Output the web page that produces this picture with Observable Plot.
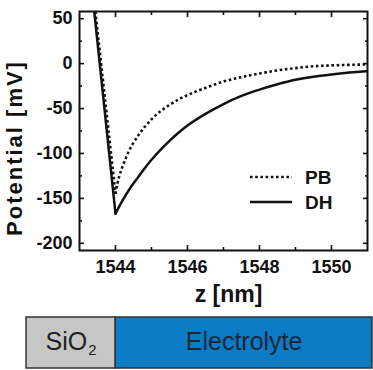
<!DOCTYPE html>
<html>
<head>
<meta charset="utf-8">
<script src="https://cdn.jsdelivr.net/npm/d3@7"></script>
<script src="https://cdn.jsdelivr.net/npm/@observablehq/plot@0.6"></script>
<style>
  html, body { margin: 0; padding: 0; background: #fff; }
  #wrap { position: relative; width: 373px; height: 370px; font-family: "Liberation Sans", Arial, sans-serif; }
  #wrap svg { display: block; }
  #legend { position: absolute; left: 0; top: 0; pointer-events: none; }
</style>
</head>
<body>
<div id="wrap"></div>
<script>
// ---- data ----
// Debye-Hückel (DH, solid)
const zDH = [1543.41, 1544.0, 1544.2, 1544.4, 1544.6, 1544.8, 1545.0, 1545.25, 1545.5, 1545.75, 1546.0, 1546.5, 1547.0, 1547.5, 1548.0, 1548.5, 1549.0, 1549.5, 1550.0, 1550.5, 1550.96];
const vDH = [58, -167, -152, -139, -128, -117, -107, -96, -86, -77, -69, -56, -45, -36, -29, -23, -18, -14.5, -12, -10, -8.5];
// Poisson-Boltzmann (PB, dotted)
const zPB = [1543.44, 1544.0, 1544.05, 1544.1, 1544.2, 1544.3, 1544.4, 1544.5, 1544.65, 1544.8, 1545.0, 1545.25, 1545.5, 1545.75, 1546.0, 1546.5, 1547.0, 1547.5, 1548.0, 1548.5, 1549.0, 1549.5, 1550.0, 1550.96];
const vPB = [58, -145, -134, -126, -114, -104, -95, -88, -79, -71, -62, -53, -46, -40, -35, -27, -20, -15, -11, -7.5, -5, -3, -2, -1];

const xMajorTicks = [1544, 1546, 1548, 1550];
const xMinorTicks = [1545, 1547, 1549];
const yMajorTicks = [-200, -150, -100, -50, 0, 50];
const yMinorTicks = [-175, -125, -75, -25, 25];

const seriesNames = ["PB", "DH"];
const xLabel = "z [nm]";
const yLabel = "Potential [mV]";

// layer bar below the chart
const regionNames = ["SiO₂", "Electrolyte"];
const regionStart = [1541.55, 1544];
const regionEnd = [1544, 1551.05];
const regionColors = ["#c6c6c6", "#0a7bc4"];

// ---- build tables ----
// split each curve into a straight descent (first two points) and the decay branch
function rows(zs, vs, name) {
  const out = [];
  zs.forEach((z, i) => {
    if (i <= 1) out.push({z, v: vs[i], series: name, branch: name + "-a"});
    if (i >= 1) out.push({z, v: vs[i], series: name, branch: name + "-b"});
  });
  return out;
}
const dh = rows(zDH, vDH, "DH");
const pb = rows(zPB, vPB, "PB");

const font = "Liberation Sans, Arial, sans-serif";

const chart = Plot.plot({
  width: 373,
  height: 314,
  marginTop: 11,
  marginBottom: 64,
  marginLeft: 79,
  marginRight: 6,
  style: {fontFamily: font, background: "#fff", color: "#111"},
  x: {domain: [1543, 1551]},
  y: {domain: [-208, 58]},
  marks: [
    // y axis left: major + minor, inward
    Plot.axisY(yMajorTicks, {anchor: "left", tickSize: -5, tickPadding: 12, fontSize: 18, fontWeight: "bold", strokeWidth: 1.6, tickFormat: d => String(d), label: null}),
    Plot.axisY(yMinorTicks, {anchor: "left", tickSize: -3, tickFormat: () => "", strokeWidth: 1.6, label: null}),
    Plot.axisY(yMajorTicks, {anchor: "right", tickSize: -5, tickFormat: () => "", strokeWidth: 1.6, label: null}),
    Plot.axisY(yMinorTicks, {anchor: "right", tickSize: -3, tickFormat: () => "", strokeWidth: 1.6, label: null}),
    // x axis
    Plot.axisX(xMajorTicks, {anchor: "bottom", tickSize: -5, tickPadding: 15, fontSize: 18, fontWeight: "bold", strokeWidth: 1.6, tickFormat: d => String(d), label: null}),
    Plot.axisX(xMinorTicks, {anchor: "bottom", tickSize: -3, tickFormat: () => "", strokeWidth: 1.6, label: null}),
    Plot.axisX(xMajorTicks, {anchor: "top", tickSize: -5, tickFormat: () => "", strokeWidth: 1.6, label: null}),
    Plot.axisX(xMinorTicks, {anchor: "top", tickSize: -3, tickFormat: () => "", strokeWidth: 1.6, label: null}),
    // curves
    Plot.line(pb, {x: "z", y: "v", z: "branch", curve: "monotone-x", stroke: "#111", strokeWidth: 2.6, strokeDasharray: "2.6,2.6", strokeLinecap: "butt", clip: true}),
    Plot.line(dh, {x: "z", y: "v", z: "branch", curve: "monotone-x", stroke: "#111", strokeWidth: 2.5, clip: true}),
    Plot.frame({stroke: "#111", strokeWidth: 2}),
    // axis titles
    Plot.text([xLabel], {frameAnchor: "bottom", text: d => d, dx: 5, dy: 51, fontSize: 23, fontWeight: "bold", fill: "#111"}),
    Plot.text([yLabel], {frameAnchor: "left", text: d => d, rotate: -90, dx: -65, dy: 17, fontSize: 22, fontWeight: "bold", fill: "#111", textAnchor: "middle", lineAnchor: "middle"})
  ]
});
// widen the y title along its direction as in the reference
d3.select(chart).selectAll("text").filter(function() { return this.textContent === yLabel; }).attr("letter-spacing", "2px");

const regions = regionNames.map((name, i) => ({name, x1: regionStart[i], x2: regionEnd[i]}));
const bar = Plot.plot({
  width: 373,
  height: 56,
  marginTop: 3,
  marginBottom: 2,
  marginLeft: 26,
  marginRight: 1,
  style: {fontFamily: font, background: "#fff"},
  x: {domain: [regionStart[0], regionEnd[1]], axis: null},
  color: {domain: regionNames, range: regionColors},
  marks: [
    Plot.rect(regions, {x1: "x1", x2: "x2", fill: "name", stroke: "#333", strokeWidth: 1.5}),
    Plot.text(regions, {x: d => (d.x1 + d.x2) / 2, text: "name", frameAnchor: "middle", dy: -1, fontSize: 25, fill: d => d.name === regionNames[0] ? "#222" : "#17273a"})
  ]
});
// typeset the subscript of SiO₂ as a lowered, smaller digit
d3.select(bar).selectAll("text").filter(function() { return this.textContent === regionNames[0]; }).each(function() {
  const t = d3.select(this);
  t.text("SiO");
  t.append("tspan").attr("font-size", 15).attr("dy", "0.35em").attr("dx", "1").text("2");
});

const wrap = document.getElementById("wrap");
wrap.appendChild(chart);
wrap.appendChild(bar);

// legend overlay inside the plot frame
const leg = d3.select(wrap).append("svg").attr("id", "legend").attr("width", 373).attr("height", 314);
const legY = [177, 202];
seriesNames.forEach((name, i) => {
  leg.append("line").attr("x1", 250).attr("x2", 292).attr("y1", legY[i]).attr("y2", legY[i])
    .attr("stroke", "#111").attr("stroke-width", 2.6)
    .attr("stroke-dasharray", name === "PB" ? "2.6,2.6" : null);
  leg.append("text").attr("x", 305).attr("y", legY[i]).attr("dy", "0.36em")
    .attr("font-family", font).attr("font-size", 19).attr("font-weight", "bold").attr("fill", "#111").text(name);
});
</script>
</body>
</html>
